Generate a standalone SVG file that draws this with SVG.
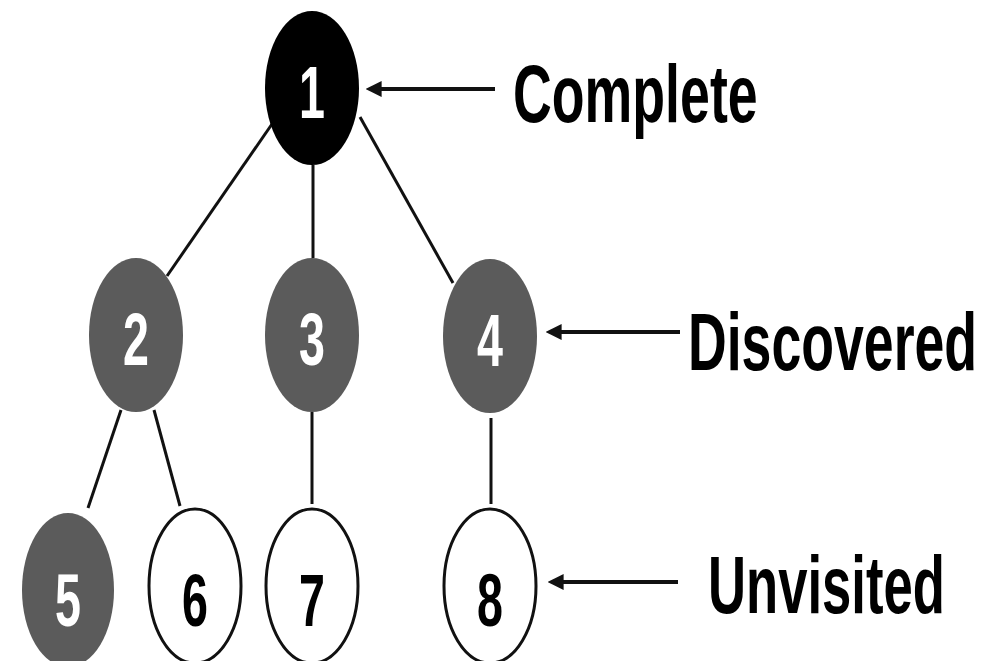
<svg xmlns="http://www.w3.org/2000/svg" width="997" height="661" viewBox="0 0 997 661">
  <style>
    .edge { stroke: #111; stroke-width: 3; fill: none; }
    .pointer { stroke: #111; stroke-width: 4; fill: none; marker-start: url(#head); }
    .complete { fill: #000; }
    .discovered { fill: #5b5b5b; }
    .unvisited { fill: #fff; stroke: #111; stroke-width: 3; }
    .num { font-family: "Liberation Sans", Arial, sans-serif; font-weight: bold; font-size: 74px; text-anchor: middle; }
    .light { fill: #fff; }
    .dark { fill: #000; }
    .label { font-family: "Liberation Sans", Arial, sans-serif; font-weight: bold; font-size: 82px; fill: #000; }
  </style>
  <defs>
    <marker id="head" viewBox="0 0 10 10" refX="1" refY="5" markerWidth="4" markerHeight="4" orient="auto-start-reverse" markerUnits="strokeWidth">
      <path d="M0,0 L10,5 L0,10 Z" fill="#111"/>
    </marker>
  </defs>
  <rect width="997" height="661" fill="#fff"/>

  <!-- tree edges and legend pointers -->
  <g id="connectors">
    <line class="edge" x1="272" y1="124" x2="167" y2="276"/>
    <line class="edge" x1="313" y1="165" x2="313" y2="258"/>
    <line class="edge" x1="360" y1="117" x2="453" y2="283"/>
    <line class="edge" x1="121" y1="410" x2="88" y2="508"/>
    <line class="edge" x1="154" y1="410" x2="180" y2="506"/>
    <line class="edge" x1="312" y1="412" x2="312" y2="504"/>
    <line class="edge" x1="491" y1="418" x2="491" y2="504"/>
    <line class="pointer" x1="380" y1="89" x2="495" y2="89"/>
    <line class="pointer" x1="560" y1="332" x2="680" y2="332"/>
    <line class="pointer" x1="562" y1="582" x2="678" y2="582"/>
  </g>

  <!-- digits are narrowed horizontally to a condensed face -->
  <g id="node1">
    <ellipse class="complete" cx="312" cy="88" rx="47" ry="77"/>
    <text class="num light" transform="translate(312,118) scale(0.63,1)">1</text>
  </g>
  <g id="node2">
    <ellipse class="discovered" cx="136" cy="335" rx="47" ry="77"/>
    <text class="num light" transform="translate(136,365) scale(0.63,1)">2</text>
  </g>
  <g id="node3">
    <ellipse class="discovered" cx="312" cy="335" rx="47" ry="77"/>
    <text class="num light" transform="translate(312,365) scale(0.63,1)">3</text>
  </g>
  <g id="node4">
    <ellipse class="discovered" cx="490" cy="336" rx="47" ry="77"/>
    <text class="num light" transform="translate(490,366) scale(0.63,1)">4</text>
  </g>
  <g id="node5">
    <ellipse class="discovered" cx="68" cy="590" rx="46" ry="77"/>
    <text class="num light" transform="translate(68,626) scale(0.63,1)">5</text>
  </g>
  <g id="node6">
    <ellipse class="unvisited" cx="195" cy="586" rx="46" ry="77"/>
    <text class="num dark" transform="translate(195,626) scale(0.63,1)">6</text>
  </g>
  <g id="node7">
    <ellipse class="unvisited" cx="312" cy="586" rx="46" ry="77"/>
    <text class="num dark" transform="translate(312,626) scale(0.63,1)">7</text>
  </g>
  <g id="node8">
    <ellipse class="unvisited" cx="490" cy="586" rx="46" ry="77"/>
    <text class="num dark" transform="translate(490,626) scale(0.63,1)">8</text>
  </g>

  <g id="legend">
    <text class="label" transform="translate(513,122) scale(0.655,1)">Complete</text>
    <text class="label" transform="translate(688,370) scale(0.654,1)">Discovered</text>
    <text class="label" transform="translate(708,613) scale(0.642,1)">Unvisited</text>
  </g>
</svg>
